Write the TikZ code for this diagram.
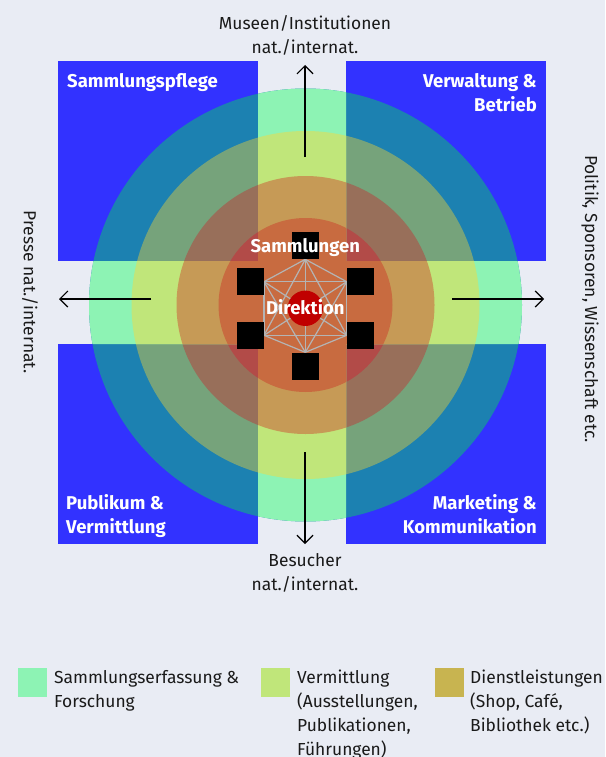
\documentclass[tikz,border=0pt]{standalone}
\usepackage{fontspec}
\setmainfont{Fira Sans}
\usetikzlibrary{arrows.meta}
\definecolor{bgcol}{HTML}{E9ECF4}
\definecolor{boxblue}{HTML}{3232FF}
\definecolor{greenlight}{HTML}{8DF3B4}
\definecolor{greendark}{HTML}{1C81B1}
\definecolor{yellowlight}{HTML}{C0E67A}
\definecolor{yellowdark}{HTML}{76A37B}
\definecolor{orangelight}{HTML}{C69A56}
\definecolor{orangedark}{HTML}{986F5A}
\definecolor{redlight}{HTML}{C86B40}
\definecolor{reddark}{HTML}{B24B48}
\definecolor{keymustard}{HTML}{C8B450}
\definecolor{netgray}{HTML}{B4B4B4}
\definecolor{dotred}{HTML}{C00000}
\definecolor{textcol}{HTML}{1A1A1A}
\tikzset{
  boxlabel/.style={text=white, font=\bfseries\fontsize{18.5}{24}\selectfont, inner sep=0pt},
  outerlabel/.style={text=textcol, font=\fontsize{17.4}{24}\selectfont, inner sep=0pt},
  keybox/.style={minimum size=29pt, inner sep=0pt, draw=none},
  member/.style={fill=black, minimum size=27pt, inner sep=0pt},
  outarrow/.style={-{Straight Barb[length=8pt,width=16pt]}, line width=1.2pt, color=black},
}
\begin{document}
\begin{tikzpicture}[x=1pt,y=-1pt]
    \useasboundingbox (0,0) rectangle (605,757);
    \fill[bgcol] (0,0) rectangle (605,757);
    \fill[boxblue] (58,61) rectangle (258,261);
    \fill[boxblue] (346,61) rectangle (546,261);
    \fill[boxblue] (58,344) rectangle (258,544);
    \fill[boxblue] (346,344) rectangle (546,544);
    \coordinate (m) at (305.5,305);
    \fill[greendark] (m) circle (216.5pt);
    \fill[yellowdark] (m) circle (174pt);
    \fill[orangedark] (m) circle (129pt);
    \fill[reddark] (m) circle (87pt);
    \begin{scope}
        \clip (258,0) rectangle (346,757) (0,261) rectangle (605,344);
        \fill[greenlight] (m) circle (216.5pt);
        \fill[yellowlight] (m) circle (174pt);
        \fill[orangelight] (m) circle (129pt);
        \fill[redlight] (m) circle (87pt);
    \end{scope}
    \coordinate (upS) at (305,157); \coordinate (upE) at (305,65);
    \coordinate (dnS) at (305,452); \coordinate (dnE) at (305,544);
    \coordinate (lfS) at (151,299); \coordinate (lfE) at (59,299);
    \coordinate (rtS) at (452,299); \coordinate (rtE) at (544,299);
    \draw[outarrow] (upS) -- (upE);
    \draw[outarrow] (dnS) -- (dnE);
    \draw[outarrow] (lfS) -- (lfE);
    \draw[outarrow] (rtS) -- (rtE);
    \coordinate (v1) at (305.3,259.3);
    \coordinate (v2) at (346.7,281.7);
    \coordinate (v3) at (346.7,335.3);
    \coordinate (v4) at (305.3,352.3);
    \coordinate (v5) at (264,335.3);
    \coordinate (v6) at (264,281.7);
    \foreach \i in {1,...,5}{
        \pgfmathtruncatemacro\k{\i+1}
        \foreach \j in {\k,...,6}
            \draw[netgray, line width=1.2pt] (v\i) -- (v\j);
    }
    \node[member, anchor=south] (s1) at (v1) {};
    \node[member, anchor=west] (s2) at (v2) {};
    \node[member, anchor=west] (s3) at (v3) {};
    \node[member, anchor=north] (s4) at (v4) {};
    \node[member, anchor=east] (s5) at (v5) {};
    \node[member, anchor=east] (s6) at (v6) {};
    \node[circle, fill=dotred, minimum size=35.4pt, inner sep=0pt] (dot) at (305.3,308.3) {};
    \node[boxlabel, anchor=base] (samml) at (305.3,252.7) {Sammlungen};
    \node[boxlabel, anchor=base] (direk) at (305.3,314.3) {Direktion};
    \node[boxlabel, anchor=base west] (pflege) at (67,88) {Sammlungspflege};
    \node[boxlabel, anchor=base east, align=right] (verw) at (537,112) {Verwaltung \&\\Betrieb};
    \node[boxlabel, anchor=base west, align=left] (publ) at (66,533) {Publikum \&\\Vermittlung};
    \node[boxlabel, anchor=base east, align=right] (mark) at (537,533) {Marketing \&\\Kommunikation};
    \node[outerlabel, anchor=base, align=center] (museen) at (305,54) {Museen/Institutionen\\nat./internat.};
    \node[outerlabel, anchor=base, align=center] (besuch) at (305,590) {Besucher\\nat./internat.};
    \node[outerlabel, rotate=-90] (politik) at (590,299) {Politik, Sponsoren, Wissenschaft etc.};
    \node[outerlabel, rotate=-90] (presse) at (30,292) {Presse nat./internat.};
    \node[keybox, fill=greenlight] (k1) at (32.5,682.5) {};
    \node[keybox, fill=yellowlight] (k2) at (275.5,682.5) {};
    \node[keybox, fill=keymustard] (k3) at (449.5,682.5) {};
    \node[outerlabel, anchor=base west, align=left] (t1) at (54,707) {Sammlungserfassung \&\\Forschung};
    \node[outerlabel, anchor=base west, align=left] (t2) at (297,755) {Vermittlung\\(Ausstellungen,\\Publikationen,\\Führungen)};
    \node[outerlabel, anchor=base west, align=left] (t3) at (470,731) {Dienstleistungen\\(Shop, Café,\\Bibliothek etc.)};
\end{tikzpicture}
\end{document}
